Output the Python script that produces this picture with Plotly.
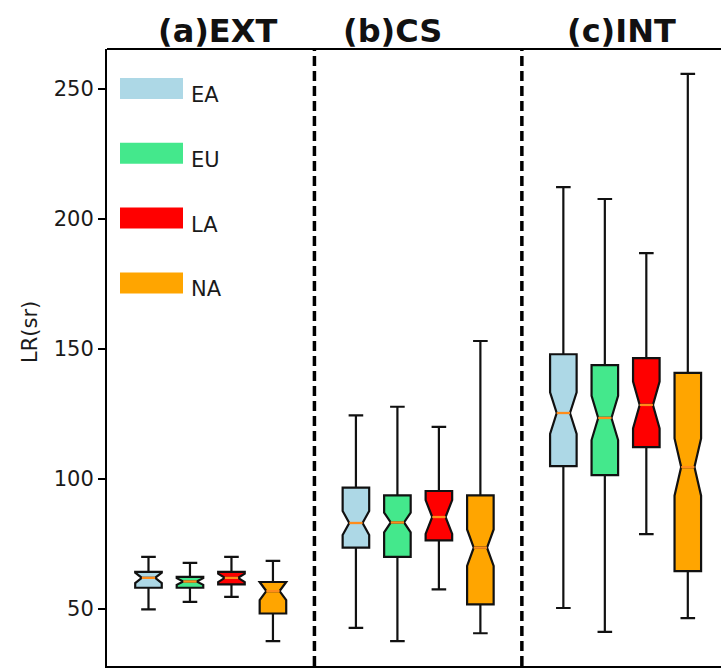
import plotly.graph_objects as go

# ---------------- data ----------------
regions = ["EA", "EU", "LA", "NA"]
panels = ["(a)EXT", "(b)CS", "(c)INT"]

ext_upper = [70.1, 67.8, 70.1, 68.5]
ext_q3 = [64.3, 62.4, 64.3, 60.4]
ext_median = [62.0, 60.6, 62.0, 56.9]
ext_q1 = [58.2, 58.2, 59.5, 48.3]
ext_lower = [49.9, 52.8, 54.7, 37.7]
ext_notch = [2.0, 1.3, 1.6, 3.5]

cs_upper = [124.5, 127.8, 120.1, 153.1]
cs_q3 = [96.7, 93.7, 95.4, 93.7]
cs_median = [83.1, 83.3, 85.4, 73.6]
cs_q1 = [73.6, 70.1, 76.4, 51.8]
cs_lower = [42.8, 37.7, 57.6, 40.7]
cs_notch = [4.6, 3.8, 6.5, 7.0]

int_upper = [212.3, 207.7, 186.9, 255.8]
int_q3 = [148.0, 143.8, 146.5, 140.8]
int_median = [125.4, 123.5, 128.5, 104.6]
int_q1 = [105.0, 101.5, 112.3, 64.6]
int_lower = [50.4, 41.2, 78.8, 46.5]
int_notch = [8.0, 8.5, 9.0, 11.0]

y_ticks = [50, 100, 150, 200, 250]
y_label = "LR(sr)"

# ---------------- styles ----------------
colors = ["#add8e6", "#44e88c", "#ff0000", "#ffa500"]
median_color = "#ff8c1a"
box_w = 0.64
FONT = "DejaVu Sans"

stats = [
    (ext_lower, ext_q1, ext_median, ext_q3, ext_upper, ext_notch),
    (cs_lower, cs_q1, cs_median, cs_q3, cs_upper, cs_notch),
    (int_lower, int_q1, int_median, int_q3, int_upper, int_notch),
]

fig = go.Figure()
n_reg = len(regions)
group = n_reg + 1
for p, (lo, q1, med, q3, up, nspan) in enumerate(stats):
    for r in range(n_reg):
        pos = p * group + r + 1
        fig.add_trace(go.Box(
            x=[pos], lowerfence=[lo[r]], q1=[q1[r]], median=[med[r]],
            q3=[q3[r]], upperfence=[up[r]], notchspan=[nspan[r]],
            notched=True, notchwidth=0.25, width=box_w, whiskerwidth=0.55,
            fillcolor=colors[r], line=dict(color="#111", width=2.2),
            boxpoints=False, showlegend=False, hoverinfo="skip",
        ))
        fig.add_trace(go.Scatter(
            x=[pos - 0.25 * box_w, pos + 0.25 * box_w], y=[med[r], med[r]],
            mode="lines", line=dict(color=median_color, width=2.3),
            showlegend=False, hoverinfo="skip",
        ))

x_max = 14.8
shapes = []
# dashed dividers between panels
for p in range(1, len(panels)):
    shapes.append(dict(type="line", xref="x", yref="paper",
                       x0=p * group, x1=p * group, y0=0, y1=1,
                       line=dict(color="black", width=3.5, dash="10px,5px")))
# top frame line
shapes.append(dict(type="line", xref="paper", yref="paper", x0=0, x1=1,
                   y0=1, y1=1, line=dict(color="black", width=2)))

# manual legend (pixel layout converted to paper coords)
plot_top, plot_bot, plot_left, plot_w = 49, 666, 107, 614
plot_h = plot_bot - plot_top
def py(px):
    return (plot_bot - px) / plot_h
def pxx(px):
    return (px - plot_left) / plot_w

annotations = []
for i, (name, c) in enumerate(zip(regions, colors)):
    cy = 88.5 + 64.8 * i
    shapes.append(dict(type="rect", xref="paper", yref="paper",
                       x0=pxx(120), x1=pxx(183), y0=py(cy + 10.5), y1=py(cy - 10.5),
                       fillcolor=c, line=dict(width=0), layer="above"))
    annotations.append(dict(text=name, xref="paper", yref="paper",
                            x=pxx(189), y=py(cy + 6.5), xanchor="left", yanchor="middle",
                            showarrow=False, font=dict(family=FONT, size=21, color="#1a1a1a")))

title_x = [2.67, 6.88, 12.39]
for t, tx in zip(panels, title_x):
    annotations.append(dict(text="<b>" + t + "</b>", xref="x", yref="paper",
                            x=tx, y=py(31), xanchor="center", yanchor="middle",
                            showarrow=False, font=dict(family=FONT, size=32, color="#111")))

annotations.append(dict(text=y_label, xref="paper", yref="paper",
                        x=pxx(30), y=py(332), textangle=-90,
                        xanchor="center", yanchor="middle", showarrow=False,
                        font=dict(family=FONT, size=21, color="#1a1a1a")))

fig.update_layout(
    width=721, height=670,
    margin=dict(l=plot_left, r=0, t=plot_top, b=670 - plot_bot),
    plot_bgcolor="white", paper_bgcolor="white",
    boxmode="overlay", showlegend=False,
    shapes=shapes, annotations=annotations,
    font=dict(family=FONT),
    xaxis=dict(range=[0, x_max], showgrid=False, zeroline=False,
               showline=True, linecolor="black", linewidth=2,
               showticklabels=False, ticks=""),
    yaxis=dict(range=[28.1, 265.4], tickvals=y_ticks, showgrid=False,
               zeroline=False, showline=True, linecolor="black", linewidth=2,
               ticks="outside", ticklen=7, tickwidth=1.5, tickcolor="black",
               tickfont=dict(family=FONT, size=21, color="#1a1a1a")),
)

fig.write_html("out.html")
